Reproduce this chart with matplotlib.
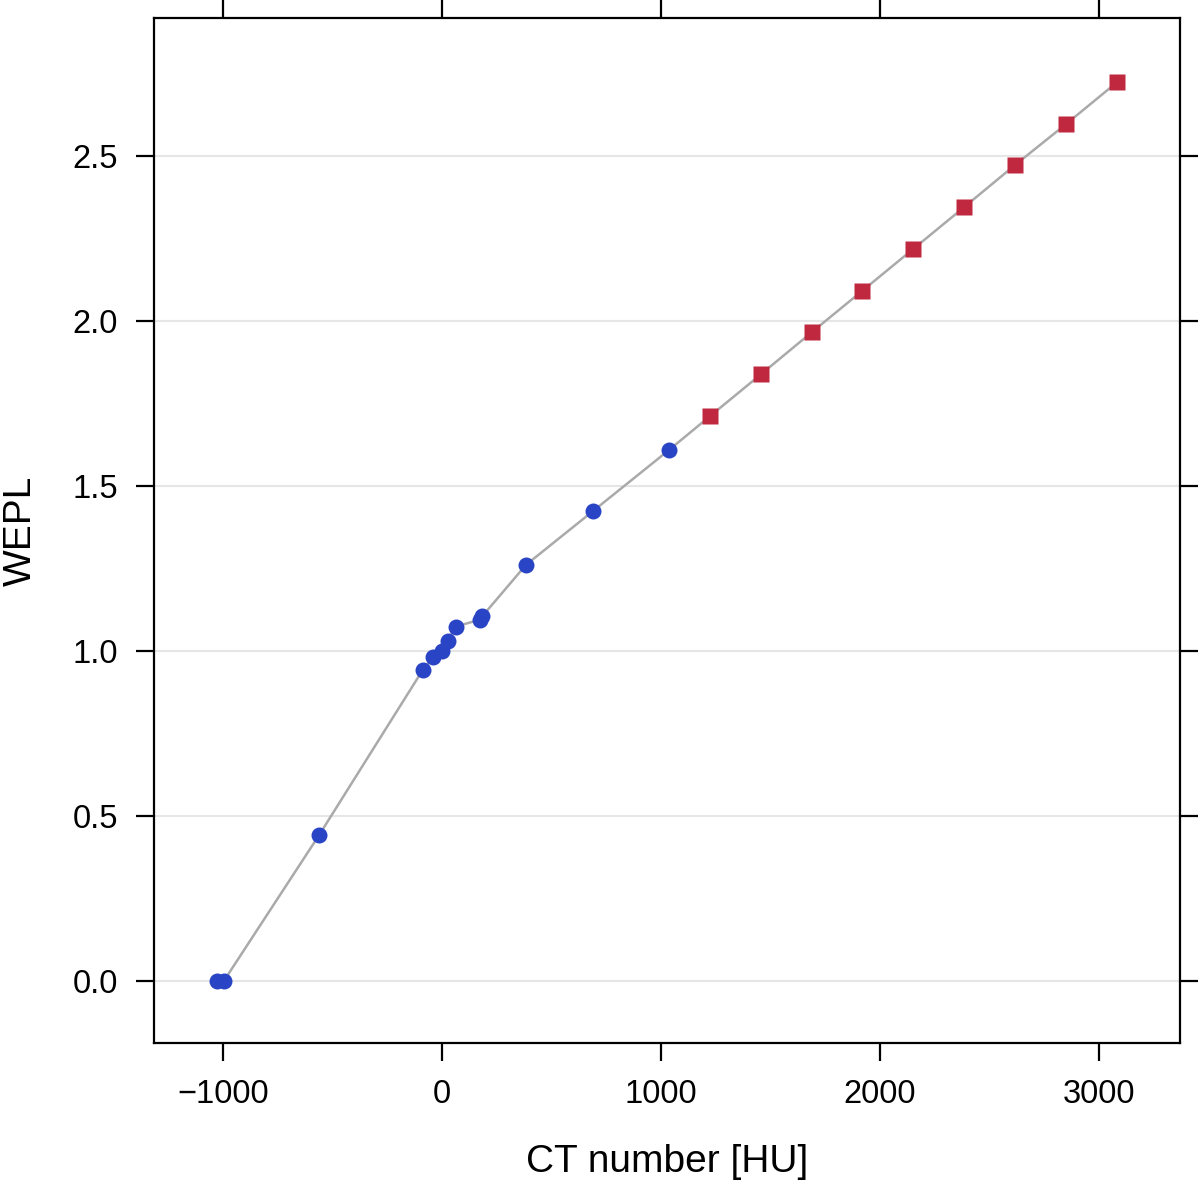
import numpy as np
import matplotlib.pyplot as plt

plt.rcParams['font.family'] = ['Liberation Sans', 'DejaVu Sans']

# measured tissue points (blue circles)
ct_meas = [-1024, -995, -560, -87, -41, 0, 27, 65, 175, 185, 385, 691, 1038]
wepl_meas = [0.0, 0.0, 0.442, 0.942, 0.981, 1.0, 1.031, 1.074, 1.095, 1.105, 1.261, 1.424, 1.609]

# extrapolated points (red squares)
ct_extra = [1226, 1459, 1692, 1920, 2153, 2386, 2619, 2852, 3085]
wepl_extra = [1.712, 1.839, 1.967, 2.091, 2.218, 2.345, 2.473, 2.597, 2.724]

x_ticks = [-1000, 0, 1000, 2000, 3000]
y_ticks = [0.0, 0.5, 1.0, 1.5, 2.0, 2.5]

fig = plt.figure(figsize=(12, 11.81), dpi=100)
ax = fig.add_axes([0.1283, 0.1168, 0.855, 0.868])

for y in y_ticks:
    ax.axhline(y, color='#e6e6e6', lw=1.5, zorder=0)

ct_all = ct_meas + ct_extra
wepl_all = wepl_meas + wepl_extra
ax.plot(ct_all, wepl_all, color='#aaaaaa', lw=1.8, zorder=1)
ax.plot(ct_meas, wepl_meas, 'o', color='#2a44c6', ms=11.5, mec='none', zorder=2)
ax.plot(ct_extra, wepl_extra, 's', color='#c0283f', ms=11, mec='none', zorder=2)

ax.set_xlim(-1314, 3371)
ax.set_ylim(-0.188, 2.918)
ax.set_xticks(x_ticks)
ax.set_yticks(y_ticks)
ax.set_xticklabels(['\u22121000', '0', '1000', '2000', '3000'])
ax.set_yticklabels(['%.1f' % v for v in y_ticks])

ax.tick_params(direction='out', length=13, width=1.6, labelsize=23.5, pad=13,
               top=True, right=True, labeltop=False, labelright=False)
for s in ax.spines.values():
    s.set_linewidth(1.6)

ax.set_xlabel('CT number [HU]', fontsize=28, labelpad=24)
ax.set_ylabel('WEPL', fontsize=28, labelpad=24)

fig.savefig('out.png')
